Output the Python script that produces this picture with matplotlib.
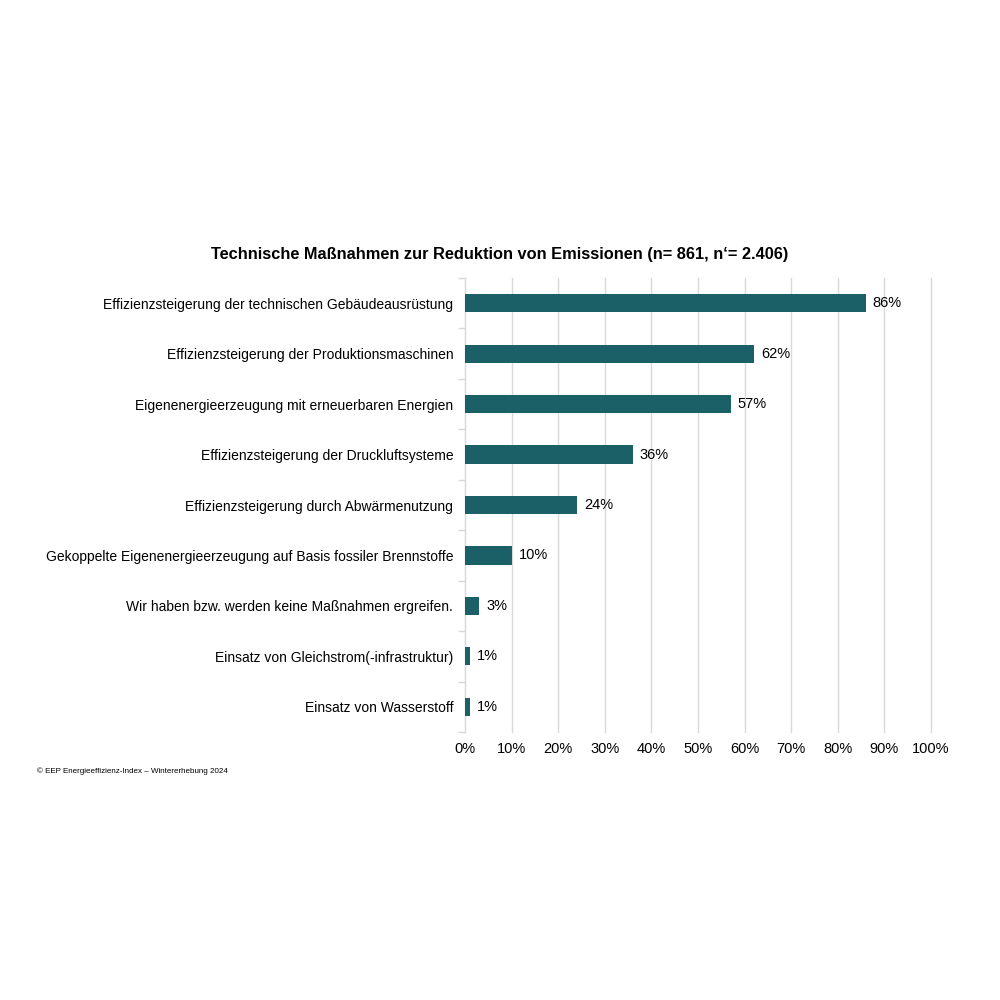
import matplotlib
matplotlib.use('Agg')
import matplotlib.pyplot as plt
import numpy as np

plt.rcParams['font.family'] = ['Liberation Sans', 'DejaVu Sans']

categories = [
    'Effizienzsteigerung der technischen Gebäudeausrüstung',
    'Effizienzsteigerung der Produktionsmaschinen',
    'Eigenenergieerzeugung mit erneuerbaren Energien',
    'Effizienzsteigerung der Druckluftsysteme',
    'Effizienzsteigerung durch Abwärmenutzung',
    'Gekoppelte Eigenenergieerzeugung auf Basis fossiler Brennstoffe',
    'Wir haben bzw. werden keine Maßnahmen ergreifen.',
    'Einsatz von Gleichstrom(-infrastruktur)',
    'Einsatz von Wasserstoff',
]
values = [86, 62, 57, 36, 24, 10, 3, 1, 1]
xticks = list(range(0, 101, 10))

bar_color = '#1b5f67'
grid_color = '#d9d9d9'

fig = plt.figure(figsize=(10, 10), dpi=100)
ax = fig.add_axes([0.465, 0.268, 0.466, 0.454])

y = np.arange(len(categories))
ax.barh(y, values, height=0.36, color=bar_color, zorder=3)
for yi, v in zip(y, values):
    ax.text(v + 1.5, yi, f'{v}%', va='center', ha='left', fontsize=10.5, color='#000000')

ax.set_xlim(0, 100)
ax.set_ylim(len(categories) - 0.5, -0.5)
ax.set_xticks(xticks)
ax.set_xticklabels([f'{t}%' for t in xticks], fontsize=10.5)
ax.set_yticks(y)
ax.set_yticklabels(categories, fontsize=10)
ax.set_yticks(np.arange(-0.5, len(categories), 1), minor=True)
ax.tick_params(axis='y', which='major', length=0, pad=8.5)
ax.tick_params(axis='y', which='minor', length=5, color=grid_color, width=1)
ax.tick_params(axis='x', length=0, pad=7)
ax.grid(axis='x', color=grid_color, linewidth=1, zorder=0)
for gl in ax.get_xgridlines():
    gl.set_clip_on(False)
for s in ['top', 'right', 'bottom']:
    ax.spines[s].set_visible(False)
ax.spines['left'].set_color(grid_color)

fig.text(0.5, 0.745, 'Technische Maßnahmen zur Reduktion von Emissionen (n= 861, n‘= 2.406)',
         ha='center', va='center', fontsize=11.8, fontweight='bold')
fig.text(0.037, 0.229, '© EEP Energieeffizienz-Index – Wintererhebung 2024',
         ha='left', va='center', fontsize=5.8)

fig.savefig('out.png', dpi=100, facecolor='white')
